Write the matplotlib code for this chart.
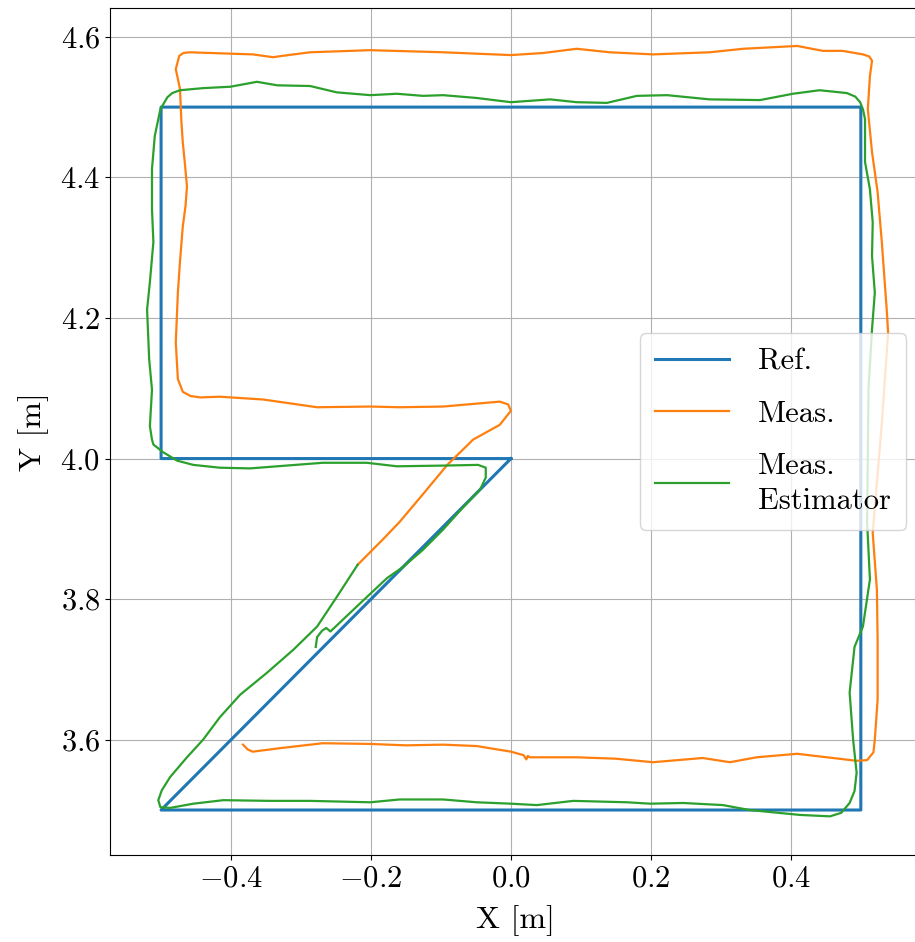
import numpy as np
import matplotlib
matplotlib.use('Agg')
import matplotlib.pyplot as plt

plt.rcParams['font.family'] = 'serif'
plt.rcParams['font.serif'] = ['cmr10']
plt.rcParams['mathtext.fontset'] = 'cm'
plt.rcParams['axes.formatter.use_mathtext'] = True
plt.rcParams['axes.unicode_minus'] = True

# reference path
ref_x = [0.0, -0.5, 0.5, 0.5, -0.5, -0.5, 0.0]
ref_y = [4.0, 3.5, 3.5, 4.5, 4.5, 4.0, 4.0]

# measured path
meas_x = [-0.383, -0.376, -0.369, -0.330, -0.269, -0.201, -0.150, -0.097, -0.049, 0.000, 0.018, 0.022, 0.024, 0.027,
          0.094, 0.150, 0.203, 0.274, 0.313, 0.351, 0.409, 0.494, 0.509, 0.518, 0.520, 0.524, 0.524, 0.523,
          0.517, 0.530, 0.539, 0.537, 0.530, 0.524, 0.516, 0.510, 0.513, 0.516, 0.512, 0.503, 0.474,
          0.446, 0.409, 0.332, 0.284, 0.203, 0.141, 0.094, 0.046, 0.000, -0.097, -0.201, -0.287,
          -0.326, -0.340, -0.369, -0.430, -0.459, -0.468, -0.474, -0.479, -0.473, -0.471, -0.469, -0.466,
          -0.463, -0.465, -0.469, -0.473,
          -0.476, -0.479, -0.476, -0.469, -0.458, -0.444, -0.416, -0.354, -0.277, -0.201, -0.159, -0.097,
          -0.016, -0.004, 0.000, -0.016, -0.054, -0.091, -0.126, -0.159, -0.183, -0.219]
meas_y = [3.593, 3.586, 3.583, 3.588, 3.595, 3.594, 3.592, 3.593, 3.591, 3.583, 3.578, 3.572, 3.577, 3.575,
          3.575, 3.573, 3.568, 3.574, 3.568, 3.575, 3.580, 3.570, 3.571, 3.582, 3.600, 3.657, 3.742, 3.813,
          3.894, 4.050, 4.179, 4.212, 4.308, 4.379, 4.436, 4.497, 4.544, 4.566, 4.572, 4.575, 4.580,
          4.580, 4.587, 4.583, 4.578, 4.575, 4.578, 4.583, 4.577, 4.574, 4.578, 4.581, 4.578,
          4.573, 4.571, 4.575, 4.577, 4.578, 4.577, 4.573, 4.554, 4.526, 4.480, 4.450, 4.420,
          4.387, 4.360, 4.330, 4.280,
          4.236, 4.165, 4.113, 4.095, 4.089, 4.087, 4.088, 4.084, 4.073, 4.074, 4.073, 4.074,
          4.081, 4.077, 4.068, 4.048, 4.027, 3.991, 3.949, 3.910, 3.885, 3.849]

# estimator path
est_x = [-0.279, -0.277, -0.270, -0.264, -0.258, -0.240, -0.206, -0.177, -0.154, -0.126, -0.097,
         -0.069, -0.044, -0.036, -0.036, -0.047, -0.097, -0.163, -0.206, -0.269, -0.334, -0.373,
         -0.416, -0.454, -0.477, -0.497, -0.511, -0.513, -0.516, -0.513, -0.517, -0.520, -0.516,
         -0.511, -0.513, -0.513, -0.509, -0.501, -0.491, -0.484, -0.473, -0.440, -0.401, -0.363, -0.334,
         -0.287, -0.249, -0.201, -0.163, -0.126, -0.097, -0.049, 0.000, 0.056, 0.094, 0.137,
         0.180, 0.223, 0.284, 0.356, 0.403, 0.441, 0.480, 0.492, 0.499, 0.503, 0.506, 0.506, 0.513, 0.517,
         0.516, 0.520, 0.516, 0.511, 0.509, 0.513, 0.503, 0.491, 0.484, 0.489, 0.494, 0.491, 0.484,
         0.472, 0.456, 0.413, 0.341, 0.303, 0.246, 0.199, 0.166, 0.089, 0.037, 0.000, -0.049, -0.097,
         -0.159, -0.201, -0.287, -0.344, -0.411, -0.454, -0.487, -0.501, -0.504, -0.499, -0.487,
         -0.463, -0.440, -0.416, -0.387, -0.349, -0.311, -0.277, -0.249, -0.219]
est_y = [3.732, 3.746, 3.755, 3.759, 3.754, 3.771, 3.803, 3.830, 3.846, 3.870, 3.899,
         3.930, 3.956, 3.973, 3.987, 3.991, 3.990, 3.989, 3.994, 3.994, 3.989, 3.986,
         3.987, 3.991, 3.997, 4.009, 4.020, 4.027, 4.046, 4.098, 4.141, 4.212, 4.251,
         4.308, 4.355, 4.412, 4.459, 4.497, 4.514, 4.520, 4.524, 4.527, 4.529, 4.536, 4.531,
         4.530, 4.521, 4.517, 4.519, 4.516, 4.517, 4.513, 4.507, 4.511, 4.507, 4.506,
         4.516, 4.517, 4.511, 4.510, 4.519, 4.524, 4.520, 4.515, 4.507, 4.497, 4.483, 4.422, 4.383, 4.336,
         4.288, 4.236, 4.184, 4.100, 3.909, 3.828, 3.761, 3.732, 3.667, 3.600, 3.553, 3.527, 3.510,
         3.496, 3.491, 3.493, 3.500, 3.507, 3.510, 3.509, 3.511, 3.513, 3.507, 3.509, 3.511, 3.515,
         3.515, 3.511, 3.513, 3.513, 3.514, 3.509, 3.503, 3.504, 3.514, 3.528, 3.547,
         3.575, 3.600, 3.632, 3.664, 3.695, 3.728, 3.761, 3.803, 3.849]

fig = plt.figure(figsize=(9.15, 9.42), dpi=100)
ax = fig.add_axes([110 / 915, 87 / 942, 811 / 915, 847 / 942])

ax.plot(ref_x, ref_y, color='#1f77b4', lw=2.2, label='Ref.')
ax.plot(meas_x, meas_y, color='#ff7f0e', lw=1.6, label='Meas.')
ax.plot(est_x, est_y, color='#2ca02c', lw=1.6, label='Meas.\nEstimator')

ax.set_xlim(-0.573, 0.586)
ax.set_ylim(3.436, 4.641)
ax.set_xticks([-0.4, -0.2, 0.0, 0.2, 0.4])
ax.set_yticks([3.6, 3.8, 4.0, 4.2, 4.4, 4.6])
ax.tick_params(labelsize=22)
ax.set_xlabel('X [m]', fontsize=23, labelpad=9)
ax.set_ylabel('Y [m]', fontsize=23, labelpad=8)
ax.grid(True)
leg = ax.legend(loc='center right', fontsize=22, handlelength=2.4, handletextpad=0.95,
                labelspacing=0.8, borderpad=0.5)
leg.get_texts()[2].set_linespacing(1.35)

fig.savefig('out.png', dpi=100)
